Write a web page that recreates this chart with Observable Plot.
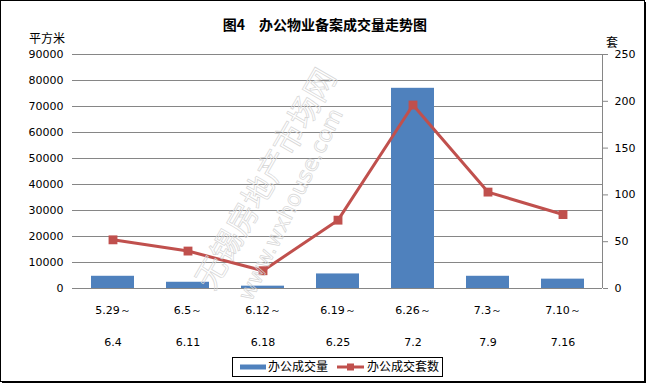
<!DOCTYPE html>
<html><head><meta charset="utf-8">
<script src="https://cdn.jsdelivr.net/npm/d3@7"></script>
<script src="https://cdn.jsdelivr.net/npm/@observablehq/plot@0.6"></script>
<style>body{margin:0;background:#fff} #chart{position:relative;width:648px;height:386px}</style>
</head><body><div id="chart"></div>
<script>
const periodStart = ["5.29～","6.5～","6.12～","6.19～","6.26～","7.3～","7.10～"];
const periodEnd = ["6.4","6.11","6.18","6.25","7.2","7.9","7.16"];
const officeArea = [4700, 2400, 900, 5600, 77000, 4700, 3600];
const officeUnits = [52, 40, 19, 73, 196, 103, 79];
const leftTicks = [0,10000,20000,30000,40000,50000,60000,70000,80000,90000];
const rightTicks = [0,50,100,150,200,250];
const titleText = "图4　办公物业备案成交量走势图";
const leftUnit = "平方米";
const rightUnit = "套";
const seriesNames = ["办公成交量","办公成交套数"];
const watermark = ["无锡房地产市场网","www.wxhouse.com"];

const ratio = 90000 / 250;
const data = periodStart.map((s, i) => ({key: s + "|" + periodEnd[i], start: s, end: periodEnd[i], area: officeArea[i], units: officeUnits[i]}));
const keys = data.map(d => d.key);

const num = "'DejaVu Sans', sans-serif";
const cjk = "'Noto Sans CJK SC', sans-serif";
const BLUE = "#4F81BD", RED = "#C0504D", GRID = "#868686";

const chart = Plot.plot({
  width: 648, height: 386,
  marginLeft: 72, marginRight: 46, marginTop: 54, marginBottom: 98,
  style: {fontFamily: num, fontSize: "11px", color: "#000", background: "transparent"},
  x: {type: "band", domain: keys, paddingInner: 0.43, paddingOuter: 0.215, axis: null},
  y: {domain: [0, 90000], axis: null, label: null},
  marks: [
    Plot.ruleY(leftTicks, {stroke: GRID, strokeWidth: 1}),
    Plot.barY(data, {x: "key", y: "area", fill: BLUE}),
    Plot.axisY(leftTicks, {anchor: "left", label: null, tickSize: 0, tickPadding: 9, tickFormat: d => String(d)}),
    Plot.axisY(rightTicks.map(v => v * ratio), {anchor: "right", label: null, tickSize: 5, tickPadding: 7, stroke: GRID, tickFormat: d => String(Math.round(d / ratio))}),
    Plot.text(data, {x: "key", y: () => 0, text: "start", dy: 22, lineAnchor: "middle"}),
    Plot.text(data, {x: "key", y: () => 0, text: "end", dy: 54, lineAnchor: "middle"}),
    Plot.line(data, {x: "key", y: d => d.units * ratio, stroke: RED, strokeWidth: 3}),
    Plot.dot(data, {x: "key", y: d => d.units * ratio, symbol: "square", r: 5, fill: RED, stroke: "none"})
  ]
});
document.getElementById("chart").appendChild(chart);

const svg = d3.select(chart);
const xr = chart.scale("x").range, yr = chart.scale("y").range;
// right axis line
svg.append("line").attr("x1", xr[1] + 0.5).attr("x2", xr[1] + 0.5).attr("y1", yr[1]).attr("y2", yr[0])
  .attr("stroke", GRID);

// title & units
svg.append("text").attr("x", 325).attr("y", 26).attr("text-anchor", "middle").attr("dominant-baseline", "middle")
  .attr("font-family", cjk).attr("font-weight", "bold").attr("font-size", 14).attr("fill", "#000").text(titleText);
svg.append("text").attr("x", 47).attr("y", 40).attr("text-anchor", "middle").attr("dominant-baseline", "middle")
  .attr("font-family", cjk).attr("font-size", 12).attr("fill", "#000").text(leftUnit);
svg.append("text").attr("x", 612).attr("y", 44).attr("text-anchor", "middle").attr("dominant-baseline", "middle")
  .attr("font-family", cjk).attr("font-size", 12).attr("fill", "#000").text(rightUnit);

// watermark
const wm = svg.append("g").attr("fill", "none").attr("stroke", "#d6d6d6").attr("stroke-width", 0.7);
wm.append("text").attr("transform", "translate(268,180) rotate(-60)").attr("text-anchor", "middle").attr("dominant-baseline", "middle")
  .attr("font-family", cjk).attr("font-size", 31).text(watermark[0]);
wm.append("text").attr("transform", "translate(292,205) rotate(-64)").attr("text-anchor", "middle").attr("dominant-baseline", "middle")
  .attr("font-family", num).attr("font-size", 22).text(watermark[1]);

// legend
const lg = svg.append("g").attr("text-anchor", "start");
lg.append("rect").attr("x", 232.5).attr("y", 357.5).attr("width", 210).attr("height", 19).attr("fill", "#fff").attr("stroke", "#000");
lg.append("line").attr("x1", 240).attr("x2", 266).attr("y1", 367).attr("y2", 367).attr("stroke", BLUE).attr("stroke-width", 5);
lg.append("text").attr("x", 268).attr("y", 367.5).attr("text-anchor", "start").attr("dominant-baseline", "middle").attr("font-family", cjk).attr("font-size", 12).attr("fill", "#000").text(seriesNames[0]);
lg.append("line").attr("x1", 337).attr("x2", 364).attr("y1", 367).attr("y2", 367).attr("stroke", RED).attr("stroke-width", 3);
lg.append("rect").attr("x", 347).attr("y", 363.5).attr("width", 7).attr("height", 7).attr("fill", RED);
lg.append("text").attr("x", 367).attr("y", 367.5).attr("text-anchor", "start").attr("dominant-baseline", "middle").attr("font-family", cjk).attr("font-size", 12).attr("fill", "#000").text(seriesNames[1]);

// outer border
svg.append("rect").attr("x", 0.5).attr("y", 0.5).attr("width", 644).attr("height", 381).attr("fill", "none").attr("stroke", "#000");
svg.append("line").attr("x1", 645.5).attr("x2", 645.5).attr("y1", 2).attr("y2", 383).attr("stroke", "#000");
svg.append("line").attr("x1", 2).attr("x2", 646).attr("y1", 382.5).attr("y2", 382.5).attr("stroke", "#000");
</script></body></html>
